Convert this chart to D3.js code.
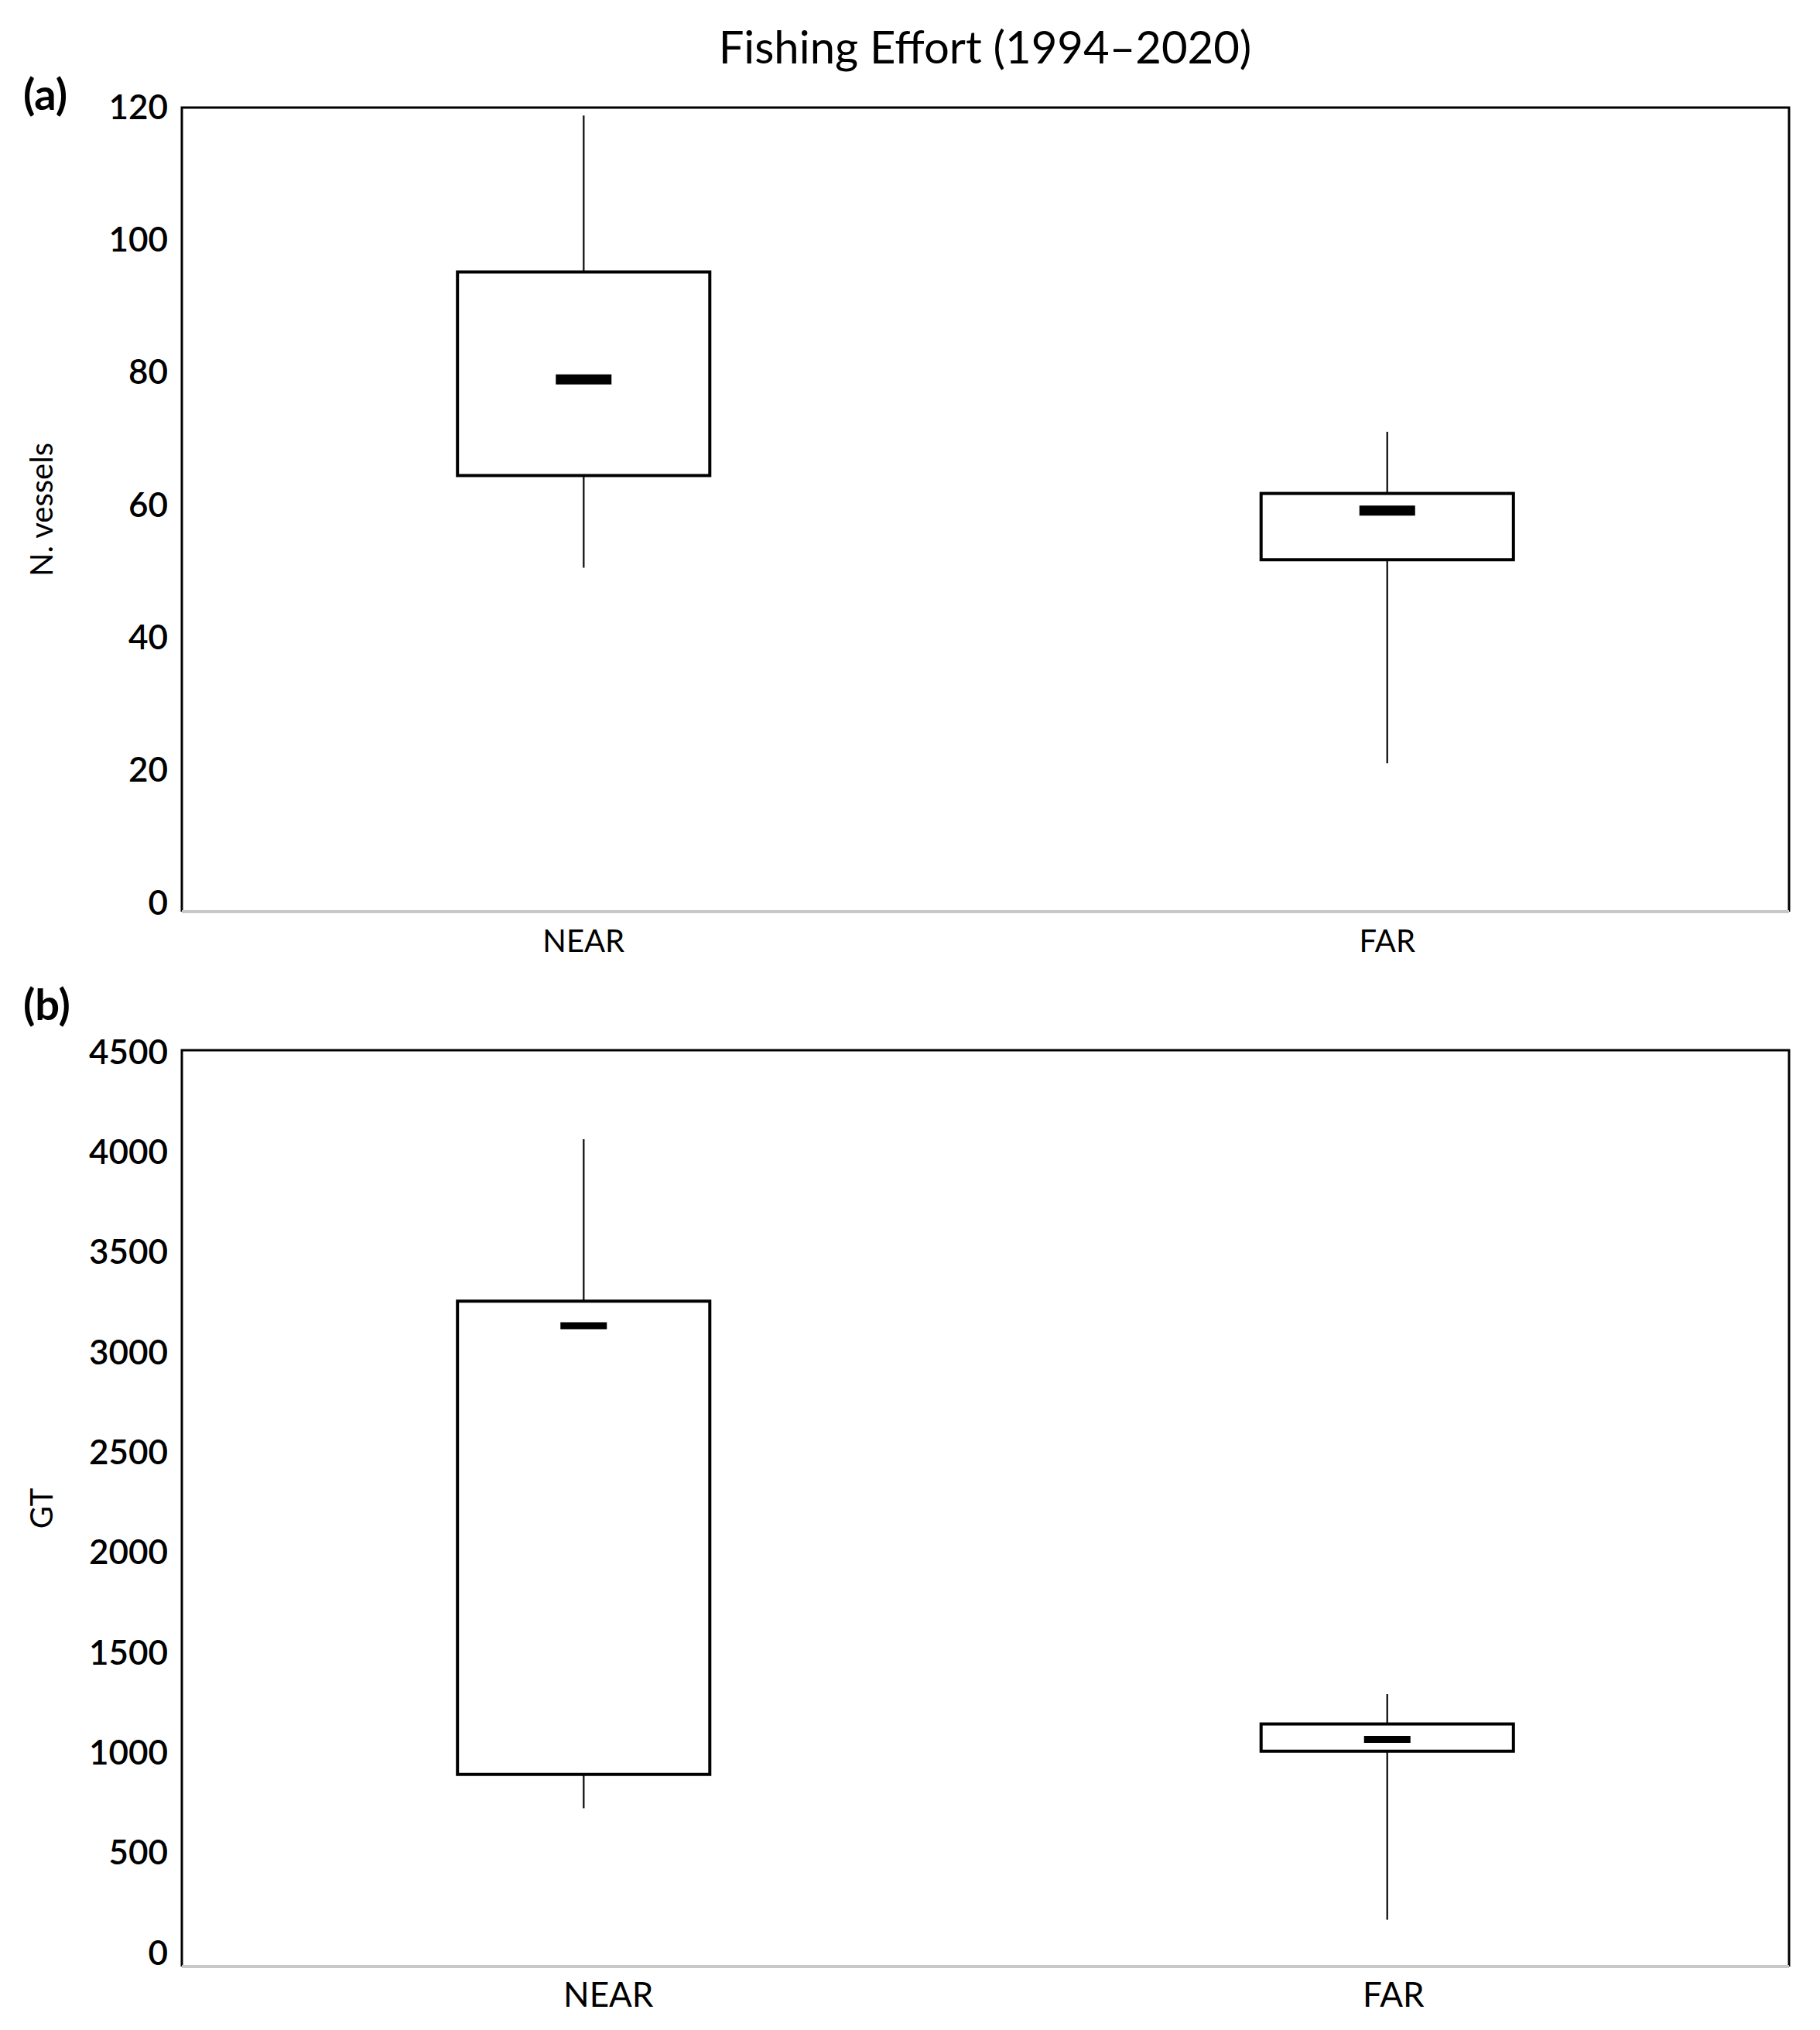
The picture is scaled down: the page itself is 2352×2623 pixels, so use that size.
<!DOCTYPE html>
<html><head><meta charset="utf-8">
<script src="https://cdn.jsdelivr.net/npm/d3@7"></script>
<style>body{margin:0;background:#fff}text{font-family:Lato,"Open Sans",sans-serif}</style>
</head><body>
<svg id="chart" width="2352" height="2623"></svg>
<script>
// data
const categories = ["NEAR", "FAR"];
const vesselsStats = [
  {min: 50.6, q1: 64.5, median: 79, q3: 95.2, max: 118.8},
  {min: 21.1, q1: 51.8, median: 59.2, q3: 61.8, max: 71.1}
];
const gtStats = [
  {min: 725, q1: 894, median: 3135, q3: 3258, max: 4067},
  {min: 168, q1: 1010, median: 1069, q3: 1146, max: 1295}
];
const vesselsTicks = [0, 20, 40, 60, 80, 100, 120];
const gtTicks = [0, 500, 1000, 1500, 2000, 2500, 3000, 3500, 4000, 4500];

const svg = d3.select("#chart");

svg.append("text").attr("x", 1273).attr("y", 82).attr("text-anchor", "middle")
  .attr("font-size", 58).text("Fishing Effort (1994\u20132020)");

function panel(opt) {
  const x = d3.scalePoint().domain(categories).range([opt.left, opt.right]).padding(0.5);
  const y = d3.scaleLinear().domain(opt.domain).range([opt.y0, opt.yTop]);
  const boxW = (opt.right - opt.left) * 0.157;
  const g = svg.append("g");

  // frame
  g.append("path").attr("fill", "none").attr("stroke", "#000").attr("stroke-width", 3)
    .attr("d", `M${opt.left},${opt.bottom}V${opt.top}H${opt.right}V${opt.bottom}`);
  g.append("line").attr("x1", opt.left).attr("x2", opt.right)
    .attr("y1", opt.bottom).attr("y2", opt.bottom).attr("stroke", "#c8c8c8").attr("stroke-width", 4);

  // y ticks
  const yAxis = g.append("g").attr("transform", `translate(${opt.left},0)`)
    .call(d3.axisLeft(y).tickValues(opt.ticks).tickSize(0).tickPadding(18).tickFormat(d3.format("d")));
  yAxis.select(".domain").remove();
  yAxis.selectAll("text").attr("font-size", 44).attr("font-weight", 600)
    .attr("font-family", "Lato, sans-serif").attr("fill", "#000");

  // x labels
  categories.forEach(c => {
    g.append("text").attr("x", x(c) + opt.labelShift(c)).attr("y", opt.labelY)
      .attr("text-anchor", "middle").attr("font-size", opt.labelSize).text(c);
  });

  g.append("text").attr("transform", `translate(68,${(opt.top + opt.bottom) / 2}) rotate(-90)`)
    .attr("text-anchor", "middle").attr("font-size", 40).text(opt.ylabel);
  g.append("text").attr("x", 30).attr("y", opt.tagY).attr("font-size", 56)
    .attr("font-weight", 700).text(opt.tag);

  opt.stats.forEach((s, i) => {
    const cx = x(categories[i]);
    g.append("line").attr("x1", cx).attr("x2", cx).attr("y1", y(s.max)).attr("y2", y(s.q3))
      .attr("stroke", "#222").attr("stroke-width", 2.5);
    g.append("line").attr("x1", cx).attr("x2", cx).attr("y1", y(s.q1)).attr("y2", y(s.min))
      .attr("stroke", "#222").attr("stroke-width", 2.5);
    g.append("rect").attr("x", cx - boxW / 2).attr("width", boxW)
      .attr("y", y(s.q3)).attr("height", y(s.q1) - y(s.q3))
      .attr("fill", "#fff").attr("stroke", "#000").attr("stroke-width", 4);
    g.append("line").attr("x1", cx - opt.medW / 2).attr("x2", cx + opt.medW / 2)
      .attr("y1", y(s.median)).attr("y2", y(s.median))
      .attr("stroke", "#000").attr("stroke-width", opt.medT);
  });
}

panel({left: 235, right: 2312, top: 139, bottom: 1178, y0: 1167, yTop: 139,
  domain: [0, 120], ticks: vesselsTicks, stats: vesselsStats, ylabel: "N. vessels",
  tag: "(a)", tagY: 142, labelY: 1230, labelSize: 40, medW: 72, medT: 13,
  labelShift: () => 0});
panel({left: 235, right: 2312, top: 1357, bottom: 2541, y0: 2524, yTop: 1360,
  domain: [0, 4500], ticks: gtTicks, stats: gtStats, ylabel: "GT",
  tag: "(b)", tagY: 1318, labelY: 2593, labelSize: 44, medW: 60, medT: 9,
  labelShift: c => c === "NEAR" ? 32 : 8});
</script>
</body></html>
